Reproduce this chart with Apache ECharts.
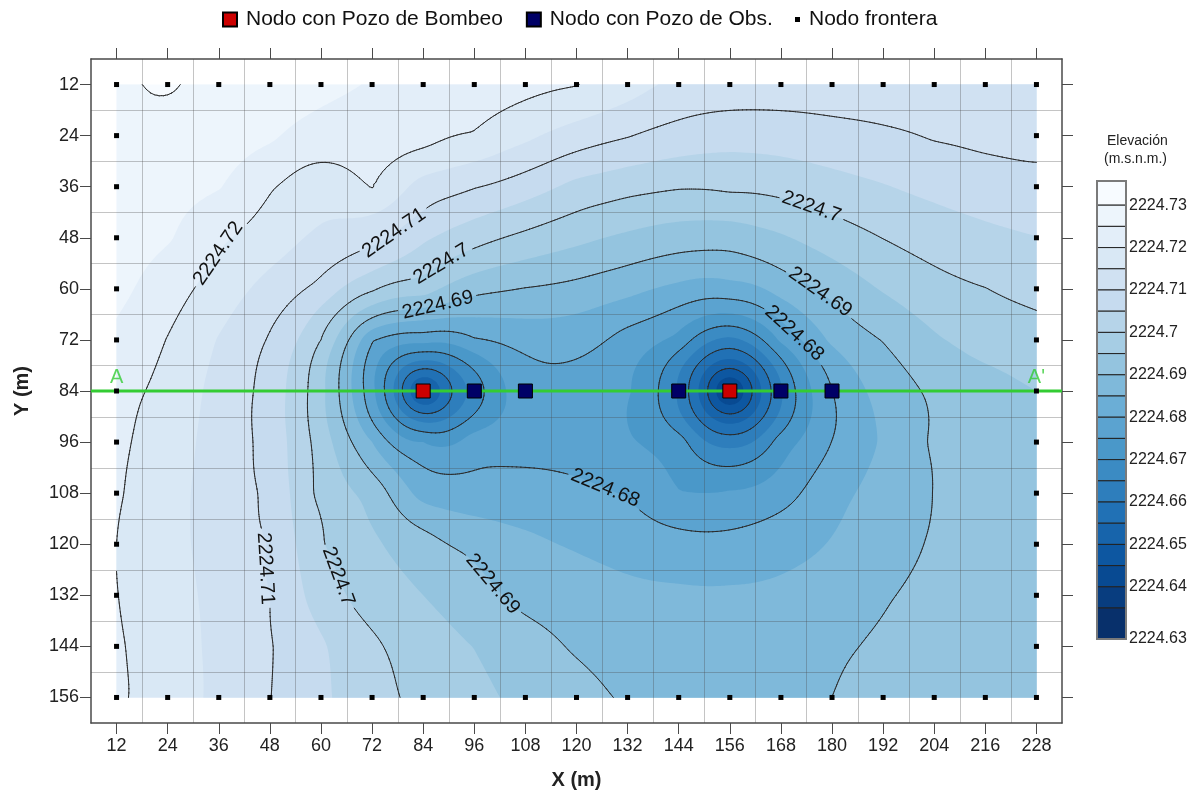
<!DOCTYPE html>
<html>
<head>
<meta charset="utf-8">
<title>Elevación</title>
<script src="https://cdn.jsdelivr.net/npm/echarts@6.0.0/dist/echarts.min.js"></script>
<style>
html,body{margin:0;padding:0;background:#ffffff;}
#chart{width:1190px;height:794px;}
</style>
</head>
<body>
<div id="chart"></div>
<script>
// ================= DATA =================
const xNodes = [12,24,36,48,60,72,84,96,108,120,132,144,156,168,180,192,204,216,228];
const yNodes = [12,24,36,48,60,72,84,96,108,120,132,144,156];
// head (m.s.n.m.) at the model nodes, one row per y value, x from 12 to 228
const headY012 = [2224.7295,2224.7303,2224.7289,2224.7274,2224.7260,2224.7247,2224.7235,2224.7224,2224.7213,2224.7202,2224.7171,2224.7138,2224.7130,2224.7127,2224.7126,2224.7127,2224.7128,2224.7130,2224.7132];
const headY024 = [2224.7300,2224.7290,2224.7274,2224.7258,2224.7232,2224.7226,2224.7218,2224.7196,2224.7161,2224.7127,2224.7103,2224.7080,2224.7068,2224.7072,2224.7083,2224.7092,2224.7104,2224.7112,2224.7118];
const headY036 = [2224.7280,2224.7266,2224.7253,2224.7205,2224.7160,2224.7202,2224.7128,2224.7103,2224.7074,2224.7035,2224.7016,2224.7004,2224.7009,2224.7015,2224.7031,2224.7047,2224.7063,2224.7075,2224.7083];
const headY048 = [2224.7271,2224.7255,2224.7208,2224.7175,2224.7141,2224.7115,2224.7058,2224.7019,2224.6988,2224.6963,2224.6941,2224.6924,2224.6920,2224.6944,2224.6974,2224.7001,2224.7022,2224.7038,2224.7049];
const headY060 = [2224.7262,2224.7223,2224.7177,2224.7132,2224.7085,2224.7008,2224.6975,2224.6915,2224.6898,2224.6886,2224.6865,2224.6838,2224.6832,2224.6870,2224.6914,2224.6954,2224.6983,2224.6999,2224.7014];
const headY072 = [2224.7243,2224.7198,2224.7147,2224.7095,2224.7000,2224.6805,2224.6770,2224.6795,2224.6819,2224.6819,2224.6780,2224.6735,2224.6637,2224.6760,2224.6860,2224.6902,2224.6944,2224.6970,2224.6981];
const headY084 = [2224.7215,2224.7185,2224.7133,2224.7080,2224.6965,2224.6765,2224.6465,2224.6670,2224.6780,2224.6780,2224.6755,2224.6645,2224.6365,2224.6645,2224.6800,2224.6868,2224.6908,2224.6930,2224.6950];
const headY096 = [2224.7209,2224.7176,2224.7128,2224.7082,2224.6978,2224.6850,2224.6750,2224.6780,2224.6785,2224.6780,2224.6755,2224.6725,2224.6630,2224.6725,2224.6801,2224.6855,2224.6906,2224.6925,2224.6940];
const headY108 = [2224.7205,2224.7167,2224.7128,2224.7088,2224.6985,2224.6935,2224.6830,2224.6818,2224.6817,2224.6812,2224.6797,2224.6752,2224.6755,2224.6778,2224.6835,2224.6869,2224.6901,2224.6922,2224.6935];
const headY120 = [2224.7200,2224.7165,2224.7131,2224.7097,2224.7004,2224.6960,2224.6922,2224.6888,2224.6862,2224.6845,2224.6830,2224.6818,2224.6815,2224.6833,2224.6853,2224.6877,2224.6905,2224.6922,2224.6935];
const headY132 = [2224.7201,2224.7170,2224.7136,2224.7101,2224.7025,2224.6975,2224.6950,2224.6917,2224.6885,2224.6875,2224.6862,2224.6858,2224.6857,2224.6860,2224.6870,2224.6895,2224.6915,2224.6930,2224.6940];
const headY144 = [2224.7205,2224.7173,2224.7138,2224.7103,2224.7057,2224.7009,2224.6977,2224.6949,2224.6921,2224.6895,2224.6885,2224.6880,2224.6880,2224.6883,2224.6893,2224.6908,2224.6922,2224.6932,2224.6940];
const headY156 = [2224.7208,2224.7173,2224.7140,2224.7101,2224.7059,2224.7017,2224.6986,2224.6962,2224.6938,2224.6914,2224.6895,2224.6888,2224.6887,2224.6891,2224.6900,2224.6915,2224.6925,2224.6933,2224.6940];
const headRows = [headY012,headY024,headY036,headY048,headY060,headY072,headY084,headY096,headY108,headY120,headY132,headY144,headY156];

const pumpingWells = [[84,84],[156,84]];
const obsWells = [[96,84],[108,84],[144,84],[168,84],[180,84]];
const sectionLine = [[6,84],[234,84]];
const sectionLabels = [{name:'A', value:[12,84]}, {name:"A'", value:[228,84]}];

const xTicks = [12,24,36,48,60,72,84,96,108,120,132,144,156,168,180,192,204,216,228];
const yTicks = [12,24,36,48,60,72,84,96,108,120,132,144,156];
const meshX = [18,30,42,54,66,78,90,102,114,126,138,150,162,174,186,198,210,222];
const meshY = [18,30,42,54,66,78,90,102,114,126,138,150];
const xExtent = [6,234];
const yExtent = [6,162];

const fillLevels = [2224.73,2224.725,2224.72,2224.715,2224.71,2224.705,2224.70,2224.695,2224.69,2224.685,2224.68,2224.675,2224.67,2224.665,2224.66,2224.655,2224.65,2224.645,2224.64,2224.635];
const lineLevels = [2224.73,2224.72,2224.71,2224.70,2224.69,2224.68,2224.67,2224.66,2224.65,2224.64];
const contourLabels = [
  {level:2224.72, at:[36.3,52.0]},
  {level:2224.71, at:[76.6,46.1]},
  {level:2224.70, at:[87.6,53.1]},
  {level:2224.69, at:[87.4,63.7]},
  {level:2224.70, at:[175.2,40.7]},
  {level:2224.69, at:[177.3,60.7]},
  {level:2224.68, at:[170.5,71.2]},
  {level:2224.68, at:[126.3,107.9]},
  {level:2224.69, at:[99.6,130.0]},
  {level:2224.71, at:[47.5,125.7]},
  {level:2224.70, at:[63.9,127.6]}
];
const colorbarRange = [2224.6277, 2224.7357];
const colorbarTicks = [2224.6277,2224.64,2224.65,2224.66,2224.67,2224.68,2224.69,2224.70,2224.71,2224.72,2224.73];

// ================= STYLE =================
const FONT = "'Liberation Sans', Arial, Helvetica, sans-serif";
const bandColors = ['#f7fbff','#edf5fc','#e3eef9','#d9e8f5','#d0e1f2','#c6dbef','#b6d4e9','#a6cde4','#94c4df','#7fb9da','#6baed6','#5ba3d0','#4a98c9','#3b8bc3','#2e7ebc','#2171b5','#1764ab','#0d57a1','#084a92','#083d7f','#08306b'];

// ================= gridding (kriging, linear variogram) =================
function solve(A, b, n) {
  for (let k = 0; k < n; k++) {
    let p = k, mx = Math.abs(A[k*n+k]);
    for (let i = k+1; i < n; i++) { const v = Math.abs(A[i*n+k]); if (v > mx) { mx = v; p = i; } }
    if (p !== k) {
      for (let j = 0; j < n; j++) { const t = A[k*n+j]; A[k*n+j] = A[p*n+j]; A[p*n+j] = t; }
      const t = b[k]; b[k] = b[p]; b[p] = t;
    }
    const akk = A[k*n+k];
    for (let i = k+1; i < n; i++) {
      const f = A[i*n+k] / akk;
      if (f === 0) continue;
      for (let j = k; j < n; j++) A[i*n+j] -= f * A[k*n+j];
      b[i] -= f * b[k];
    }
  }
  const x = new Float64Array(n);
  for (let i = n-1; i >= 0; i--) {
    let s = b[i];
    for (let j = i+1; j < n; j++) s -= A[i*n+j] * x[j];
    x[i] = s / A[i*n+i];
  }
  return x;
}
const NX = [], NY = [], NV = [];
yNodes.forEach((y, r) => xNodes.forEach((x, c) => { NX.push(x); NY.push(y); NV.push(headRows[r][c]); }));
const N = NX.length, M = N + 1;
const mean = NV.reduce((a, b) => a + b, 0) / N;
const Amat = new Float64Array(M*M), rhs = new Float64Array(M);
for (let i = 0; i < N; i++) {
  for (let j = 0; j < N; j++) { const dx = NX[i]-NX[j], dy = NY[i]-NY[j]; Amat[i*M+j] = Math.sqrt(dx*dx+dy*dy); }
  Amat[i*M+N] = 1; Amat[N*M+i] = 1; rhs[i] = NV[i] - mean;
}
const Wt = solve(Amat, rhs, M);
function krig(x, y) {
  let s = Wt[N];
  for (let k = 0; k < N; k++) { const dx = x-NX[k], dy = y-NY[k]; s += Wt[k]*Math.sqrt(dx*dx+dy*dy); }
  return s + mean;
}
const STEP = 1;
const gx0 = xNodes[0], gx1 = xNodes[xNodes.length-1], gy0 = yNodes[0], gy1 = yNodes[yNodes.length-1];
const nx = Math.round((gx1-gx0)/STEP)+1, ny = Math.round((gy1-gy0)/STEP)+1;
const F = new Float64Array(nx*ny);
for (let j = 0; j < ny; j++) for (let i = 0; i < nx; i++) F[j*nx+i] = krig(gx0+i*STEP, gy0+j*STEP);

// polygons (grid index units) of region value < t
function fillPolys(t) {
  const out = [];
  function clipTri(p) {
    const res = [];
    for (let k = 0; k < 3; k++) {
      const a = p[k], b = p[(k+1)%3];
      const ai = a[2] < t, bi = b[2] < t;
      if (ai) res.push(a);
      if (ai !== bi) { const s = (t-a[2])/(b[2]-a[2]); res.push([a[0]+s*(b[0]-a[0]), a[1]+s*(b[1]-a[1])]); }
    }
    if (res.length >= 3) out.push(res);
  }
  for (let j = 0; j < ny-1; j++) {
    let run = -1;
    for (let i = 0; i < nx-1; i++) {
      const a = F[j*nx+i], b = F[j*nx+i+1], c = F[(j+1)*nx+i+1], e = F[(j+1)*nx+i];
      if (a < t && b < t && c < t && e < t) { if (run < 0) run = i; continue; }
      if (run >= 0) { out.push([[run,j],[i,j],[i,j+1],[run,j+1]]); run = -1; }
      if (a < t || b < t || c < t || e < t) {
        clipTri([[i,j,a],[i+1,j,b],[i+1,j+1,c]]);
        clipTri([[i,j,a],[i+1,j+1,c],[i,j+1,e]]);
      }
    }
    if (run >= 0) out.push([[run,j],[nx-1,j],[nx-1,j+1],[run,j+1]]);
  }
  return out;
}
function lineSegs(L) {
  const segs = [];
  function tri(p) {
    const pts = [];
    for (let k = 0; k < 3; k++) {
      const a = p[k], b = p[(k+1)%3];
      if ((a[2] < L) !== (b[2] < L)) { const s = (L-a[2])/(b[2]-a[2]); pts.push([a[0]+s*(b[0]-a[0]), a[1]+s*(b[1]-a[1])]); }
    }
    if (pts.length === 2) segs.push(pts);
  }
  for (let j = 0; j < ny-1; j++) for (let i = 0; i < nx-1; i++) {
    const a = F[j*nx+i], b = F[j*nx+i+1], c = F[(j+1)*nx+i+1], e = F[(j+1)*nx+i];
    tri([[i,j,a],[i+1,j,b],[i+1,j+1,c]]);
    tri([[i,j,a],[i+1,j+1,c],[i,j+1,e]]);
  }
  return segs;
}
const fillGeom = fillLevels.map(fillPolys);
const lineGeom = lineLevels.map(lineSegs);

// snap label anchors onto the contour
function snap(L, p) {
  let x = p[0], y = p[1];
  const h = 0.3;
  for (let it = 0; it < 30; it++) {
    const f = krig(x, y) - L;
    if (Math.abs(f) < 1e-7) break;
    const gxv = (krig(x+h,y)-krig(x-h,y))/(2*h), gyv = (krig(x,y+h)-krig(x,y-h))/(2*h);
    const g2 = gxv*gxv + gyv*gyv;
    if (g2 === 0) break;
    x -= f*gxv/g2; y -= f*gyv/g2;
  }
  const gxv = (krig(x+h,y)-krig(x-h,y))/(2*h), gyv = (krig(x,y+h)-krig(x,y-h))/(2*h);
  return {x, y, gx: gxv, gy: gyv};
}
const labelGeom = contourLabels.map(l => Object.assign({level: l.level, text: String(parseFloat(l.level.toFixed(2)))}, snap(l.level, l.at)));
const LABEL_FONT = "20px " + FONT;
const measureCtx = document.createElement('canvas').getContext('2d');
measureCtx.font = LABEL_FONT;
labelGeom.forEach(l => { l.w = measureCtx.measureText(l.text).width; });

function mapper(api) {
  const o = api.coord([gx0, gy0]), e = api.coord([gx1, gy1]);
  return {ox: o[0], oy: o[1], sx: (e[0]-o[0])/(nx-1), sy: (e[1]-o[1])/(ny-1), ex: e[0], ey: e[1]};
}
function renderField(params, api) {
  const m = mapper(api);
  const children = [{type:'rect', shape:{x:m.ox, y:m.oy, width:m.ex-m.ox, height:m.ey-m.oy}, style:{fill:bandColors[0]}}];
  fillGeom.forEach((polys, k) => {
    let d = '';
    for (const p of polys) {
      for (let q = 0; q < p.length; q++) {
        d += (q === 0 ? 'M' : 'L') + (m.ox+p[q][0]*m.sx).toFixed(2) + ' ' + (m.oy+p[q][1]*m.sy).toFixed(2);
      }
      d += 'Z';
    }
    if (d) children.push({type:'path', shape:{pathData:d}, style:{fill:bandColors[k+1], stroke:null}});
  });
  return {type:'group', children, silent:true};
}
function renderMesh(params, api) {
  const children = [];
  const st = {stroke:'rgba(70,70,70,0.32)', lineWidth:1};
  meshX.forEach(x => { const a = api.coord([x, yExtent[0]]), b = api.coord([x, yExtent[1]]);
    children.push({type:'line', shape:{x1:Math.round(a[0])+0.5, y1:a[1], x2:Math.round(b[0])+0.5, y2:b[1]}, style:st}); });
  meshY.forEach(y => { const a = api.coord([xExtent[0], y]), b = api.coord([xExtent[1], y]);
    children.push({type:'line', shape:{x1:a[0], y1:Math.round(a[1])+0.5, x2:b[0], y2:Math.round(b[1])+0.5}, style:st}); });
  return {type:'group', children, silent:true};
}
function renderContours(params, api) {
  const m = mapper(api);
  const children = [];
  const labs = labelGeom.map(l => {
    const c = api.coord([l.x, l.y]);
    const gpx = l.gx / m.sx, gpy = l.gy / m.sy;
    let th = Math.atan2(gpx, -gpy); // tangent direction in screen
    if (th > Math.PI/2) th -= Math.PI;
    if (th <= -Math.PI/2) th += Math.PI;
    return {level:l.level, text:l.text, cx:c[0], cy:c[1], th, hw:l.w/2+4, hh:11};
  });
  lineGeom.forEach((segs, k) => {
    const L = lineLevels[k];
    const my = labs.filter(l => Math.abs(l.level - L) < 1e-6);
    let d = '';
    for (const s of segs) {
      const x1 = m.ox+s[0][0]*m.sx, y1 = m.oy+s[0][1]*m.sy, x2 = m.ox+s[1][0]*m.sx, y2 = m.oy+s[1][1]*m.sy;
      const mx = (x1+x2)/2, myy = (y1+y2)/2;
      let skip = false;
      for (const l of my) {
        const dx = mx-l.cx, dy = myy-l.cy;
        const u = dx*Math.cos(l.th) + dy*Math.sin(l.th), v = -dx*Math.sin(l.th) + dy*Math.cos(l.th);
        if (Math.abs(u) < l.hw && Math.abs(v) < l.hh) { skip = true; break; }
      }
      if (skip) continue;
      d += 'M' + x1.toFixed(2) + ' ' + y1.toFixed(2) + 'L' + x2.toFixed(2) + ' ' + y2.toFixed(2);
    }
    if (d) children.push({type:'path', shape:{pathData:d}, style:{fill:null, stroke:'#2a2a2a', lineWidth:1, lineCap:'round'}});
  });
  labs.forEach(l => children.push({type:'text', x:l.cx, y:l.cy, rotation:-l.th,
    style:{text:l.text, fill:'#111111', font:LABEL_FONT, align:'center', verticalAlign:'middle'}}));
  return {type:'group', children, silent:true};
}
function renderColorbar(params, api) {
  const children = [];
  const x0 = api.coord([0, colorbarRange[0]])[0], x1 = api.coord([1, colorbarRange[0]])[0];
  for (let k = 0; k < bandColors.length; k++) {
    const hi = k === 0 ? colorbarRange[1] : fillLevels[k-1];
    const lo = k === bandColors.length-1 ? colorbarRange[0] : fillLevels[k];
    const yt = api.coord([0, hi])[1], yb = api.coord([0, lo])[1];
    children.push({type:'rect', shape:{x:x0, y:yt, width:x1-x0, height:yb-yt}, style:{fill:bandColors[k], stroke:'#222222', lineWidth:1}});
  }
  const yt = api.coord([0, colorbarRange[1]])[1], yb = api.coord([0, colorbarRange[0]])[1];
  children.push({type:'rect', shape:{x:x0, y:yt, width:x1-x0, height:yb-yt}, style:{fill:null, stroke:'#7a7a7a', lineWidth:2}});
  return {type:'group', children, silent:true};
}

const boundaryNodes = [];
yNodes.forEach((y, r) => xNodes.forEach((x, c) => {
  if (r === 0 || r === yNodes.length-1 || c === 0 || c === xNodes.length-1) boundaryNodes.push([x, y]);
}));

const axisLineStyle = {color:'#4a4a4a', width:1.5};
const tickStyle = {color:'#4a4a4a', width:1};
const legendText = {fontFamily: FONT, fontSize: 21, color: '#111111', padding: [0, 0, 0, 4]};
const chart = echarts.init(document.getElementById('chart'), null, {renderer:'canvas'});
chart.setOption({
  animation: false,
  backgroundColor: '#ffffff',
  textStyle: {fontFamily: FONT},
  legend: [
    {top: 9, left: 222, itemGap: 23, itemWidth: 14, itemHeight: 14, padding: 0, selectedMode: false,
     textStyle: legendText,
     data: [{name: 'Nodo con Pozo de Bombeo', icon: 'rect'}, {name: 'Nodo con Pozo de Obs.', icon: 'rect'}]},
    {top: 9, left: 795, itemWidth: 5, itemHeight: 5, padding: 0, selectedMode: false,
     textStyle: legendText,
     data: [{name: 'Nodo frontera', icon: 'rect'}]}
  ],
  grid: [
    {left: 91, top: 59, right: 128, bottom: 71, outerBoundsMode: 'none'},
    {left: 1097, top: 181, width: 29, height: 458, outerBoundsMode: 'none'}
  ],
  xAxis: [
    {gridIndex:0, type:'value', position:'bottom', min:xExtent[0], max:xExtent[1],
     axisLine:{show:true, onZero:false, lineStyle:axisLineStyle},
     axisTick:{show:true, length:11, customValues:xTicks, lineStyle:tickStyle},
     axisLabel:{show:true, customValues:xTicks, margin:14, fontSize:18, color:'#222222', fontFamily:FONT},
     splitLine:{show:false},
     name:'X (m)', nameLocation:'middle', nameGap:47,
     nameTextStyle:{fontWeight:'bold', fontSize:20, color:'#222222', fontFamily:FONT}},
    {gridIndex:0, type:'value', position:'top', min:xExtent[0], max:xExtent[1],
     axisLine:{show:true, onZero:false, lineStyle:axisLineStyle},
     axisTick:{show:true, length:11, customValues:xTicks, lineStyle:tickStyle},
     axisLabel:{show:false}, splitLine:{show:false}},
    {gridIndex:1, type:'value', min:0, max:1, show:false}
  ],
  yAxis: [
    {gridIndex:0, type:'value', position:'left', inverse:true, min:yExtent[0], max:yExtent[1],
     axisLine:{show:true, onZero:false, lineStyle:axisLineStyle},
     axisTick:{show:true, length:11, customValues:yTicks, lineStyle:tickStyle},
     axisLabel:{show:true, customValues:yTicks, margin:12, fontSize:18, color:'#222222', fontFamily:FONT},
     splitLine:{show:false},
     name:'Y (m)', nameLocation:'middle', nameGap:59,
     nameTextStyle:{fontWeight:'bold', fontSize:20, color:'#222222', fontFamily:FONT}},
    {gridIndex:0, type:'value', position:'right', inverse:true, min:yExtent[0], max:yExtent[1],
     axisLine:{show:true, onZero:false, lineStyle:axisLineStyle},
     axisTick:{show:true, length:11, customValues:yTicks, lineStyle:tickStyle},
     axisLabel:{show:false}, splitLine:{show:false}},
    {gridIndex:1, type:'value', position:'right', min:colorbarRange[0], max:colorbarRange[1],
     axisLine:{show:false}, axisTick:{show:false}, splitLine:{show:false},
     axisLabel:{show:true, customValues:colorbarTicks, margin:3, fontSize:16, color:'#222222', fontFamily:FONT,
       formatter: v => String(parseFloat(v.toFixed(2)))}}
  ],
  graphic: [
    {type:'text', left: 1107, top: 134, style:{text:'Elevación', font:'14px ' + FONT, fill:'#222222'}},
    {type:'text', left: 1104, top: 152, style:{text:'(m.s.n.m.)', font:'14px ' + FONT, fill:'#222222'}}
  ],
  series: [
    {type:'custom', name:'field', xAxisIndex:0, yAxisIndex:0, data:[[gx0, gy0]], renderItem:renderField, z:1, silent:true, clip:false},
    {type:'custom', name:'mesh', xAxisIndex:0, yAxisIndex:0, data:[[gx0, gy0]], renderItem:renderMesh, z:2, silent:true, clip:false},
    {type:'custom', name:'contours', xAxisIndex:0, yAxisIndex:0, data:[[gx0, gy0]], renderItem:renderContours, z:3, silent:true, clip:false},
    {type:'line', name:'section', xAxisIndex:0, yAxisIndex:0, data:sectionLine, showSymbol:false, symbol:'none',
     lineStyle:{color:'#33cc33', width:3}, z:4, silent:true},
    {type:'scatter', name:'sectionLabels', xAxisIndex:0, yAxisIndex:0, data:sectionLabels, symbolSize:1,
     itemStyle:{color:'transparent'}, z:4, silent:true,
     label:{show:true, position:'top', distance:3, formatter:'{b}', color:'#33cc33', fontSize:20, fontFamily:FONT}},
    {type:'scatter', name:'Nodo con Pozo de Obs.', xAxisIndex:0, yAxisIndex:0, data:obsWells, symbol:'rect', symbolSize:14,
     itemStyle:{color:'#000066', borderColor:'#000000', borderWidth:1, opacity:1}, z:5, silent:true},
    {type:'scatter', name:'Nodo con Pozo de Bombeo', xAxisIndex:0, yAxisIndex:0, data:pumpingWells, symbol:'rect', symbolSize:14,
     itemStyle:{color:'#cc0000', borderColor:'#000000', borderWidth:1, opacity:1}, z:5, silent:true},
    {type:'scatter', name:'Nodo frontera', xAxisIndex:0, yAxisIndex:0, data:boundaryNodes, symbol:'rect', symbolSize:5,
     itemStyle:{color:'#000000', opacity:1}, z:6, silent:true},
    {type:'custom', name:'colorbar', xAxisIndex:2, yAxisIndex:2, data:[[0, colorbarRange[0]]], renderItem:renderColorbar, z:2, silent:true, clip:false}
  ]
});
</script>
</body>
</html>
